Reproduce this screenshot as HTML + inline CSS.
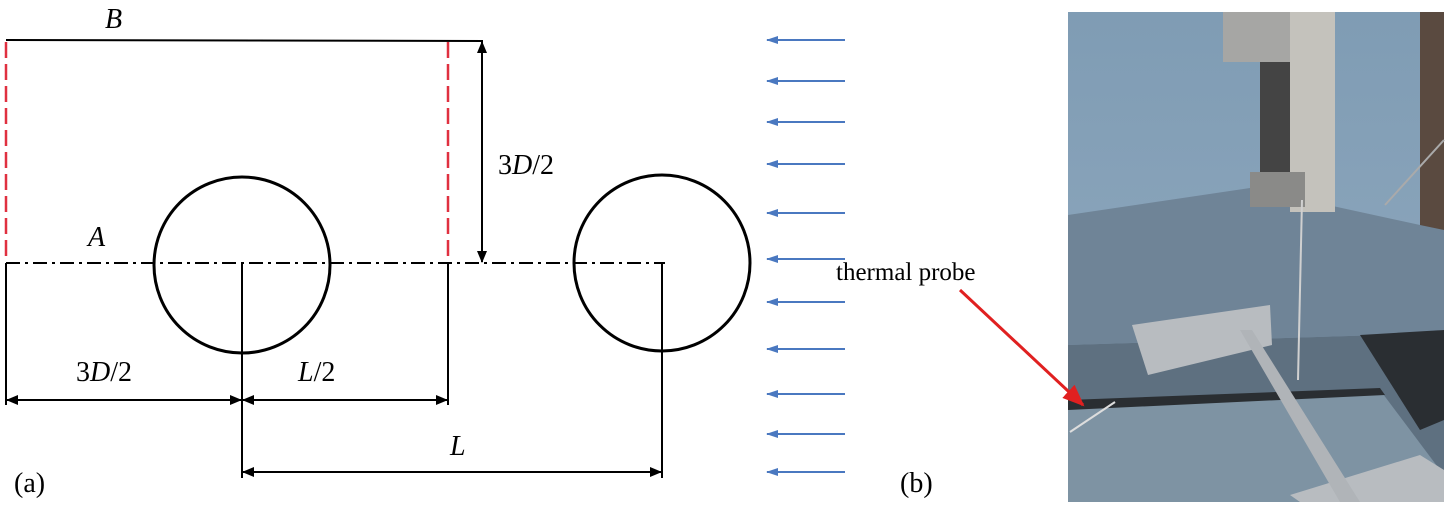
<!DOCTYPE html>
<html><head><style>
body{margin:0;background:#fff;width:1448px;height:508px;overflow:hidden}
svg text{font-family:"Liberation Serif",serif}
</style></head><body>
<svg width="1448" height="508" viewBox="0 0 1448 508" xmlns="http://www.w3.org/2000/svg">
<defs>
<marker id="ah" markerWidth="12" markerHeight="10" refX="11" refY="5" orient="auto-start-reverse" markerUnits="userSpaceOnUse"><path d="M0,0 L12,5 L0,10 Z" fill="#000"/></marker>
<marker id="bh" markerWidth="12" markerHeight="10" refX="11" refY="5" orient="auto" markerUnits="userSpaceOnUse"><path d="M0,1 L12,5 L0,9 Z" fill="#4a78c0"/></marker>
<marker id="rh" markerWidth="22" markerHeight="18" refX="20" refY="9" orient="auto" markerUnits="userSpaceOnUse"><path d="M0,0 L22,9 L0,18 Z" fill="#e02020"/></marker>
<linearGradient id="wall" x1="0" y1="0" x2="0" y2="1"><stop offset="0" stop-color="#7f9cb4"/><stop offset="1" stop-color="#93abc0"/></linearGradient>
</defs>
<line x1="6" y1="40" x2="483" y2="41" stroke="#000" stroke-width="2"/>
<line x1="6" y1="42" x2="6" y2="262" stroke="#e03040" stroke-width="2.5" stroke-dasharray="16,6"/>
<line x1="448" y1="42" x2="448" y2="262" stroke="#e03040" stroke-width="2.5" stroke-dasharray="16,6"/>
<line x1="482" y1="42" x2="482" y2="262" stroke="#000" stroke-width="2" marker-start="url(#ah)" marker-end="url(#ah)"/>
<line x1="6" y1="263" x2="665" y2="263" stroke="#000" stroke-width="2" stroke-dasharray="14,5,3,5"/>
<circle cx="242" cy="265" r="88" fill="none" stroke="#000" stroke-width="3"/>
<circle cx="662" cy="263" r="88" fill="none" stroke="#000" stroke-width="3"/>
<line x1="6" y1="263" x2="6" y2="405" stroke="#000" stroke-width="2"/>
<line x1="448" y1="263" x2="448" y2="405" stroke="#000" stroke-width="2"/>
<line x1="242" y1="263" x2="242" y2="478" stroke="#000" stroke-width="2"/>
<line x1="662" y1="263" x2="662" y2="478" stroke="#000" stroke-width="2"/>
<line x1="7" y1="400" x2="241" y2="400" stroke="#000" stroke-width="2" marker-start="url(#ah)" marker-end="url(#ah)"/>
<line x1="243" y1="400" x2="447" y2="400" stroke="#000" stroke-width="2" marker-start="url(#ah)" marker-end="url(#ah)"/>
<line x1="243" y1="472" x2="661" y2="472" stroke="#000" stroke-width="2" marker-start="url(#ah)" marker-end="url(#ah)"/>
<g font-size="28">
<text x="105" y="28" font-style="italic">B</text>
<text x="88" y="246" font-style="italic">A</text>
<text x="498" y="174">3<tspan font-style="italic">D</tspan>/2</text>
<text x="76" y="381">3<tspan font-style="italic">D</tspan>/2</text>
<text x="298" y="381"><tspan font-style="italic">L</tspan>/2</text>
<text x="450" y="455" font-style="italic">L</text>
<text x="14" y="492">(a)</text>
<text x="900" y="492">(b)</text>
<text x="836" y="280" font-size="25">thermal probe</text>
</g>
<g stroke="#4a78c0" stroke-width="2">
<line x1="845" y1="40" x2="767" y2="40" marker-end="url(#bh)"/>
<line x1="845" y1="81" x2="767" y2="81" marker-end="url(#bh)"/>
<line x1="845" y1="122" x2="767" y2="122" marker-end="url(#bh)"/>
<line x1="845" y1="164" x2="767" y2="164" marker-end="url(#bh)"/>
<line x1="845" y1="213" x2="767" y2="213" marker-end="url(#bh)"/>
<line x1="845" y1="259" x2="767" y2="259" marker-end="url(#bh)"/>
<line x1="845" y1="302" x2="767" y2="302" marker-end="url(#bh)"/>
<line x1="845" y1="349" x2="767" y2="349" marker-end="url(#bh)"/>
<line x1="845" y1="394" x2="767" y2="394" marker-end="url(#bh)"/>
<line x1="845" y1="434" x2="767" y2="434" marker-end="url(#bh)"/>
<line x1="845" y1="472" x2="767" y2="472" marker-end="url(#bh)"/>
</g>
<rect x="1068" y="12" width="376" height="490" fill="url(#wall)"/>
<rect x="1420" y="12" width="24" height="220" fill="#5a4a40"/>
<polygon points="1068,215 1250,188 1420,225 1444,230 1444,330 1380,335 1068,345" fill="#6f8497"/>
<polygon points="1068,345 1380,335 1444,340 1444,502 1068,502" fill="#5e7080"/>
<polygon points="1068,405 1380,390 1440,470 1440,502 1068,502" fill="#7e93a3"/>
<polygon points="1068,400 1380,388 1385,395 1068,410" fill="#2a2e32"/>
<polygon points="1360,335 1444,330 1444,420 1420,430" fill="#2a2e32"/>
<polygon points="1290,495 1420,455 1444,470 1444,502 1300,502" fill="#b8bcc0"/>
<rect x="1223" y="12" width="90" height="50" fill="#a6a6a4"/>
<rect x="1260" y="62" width="40" height="120" fill="#444"/>
<rect x="1290" y="12" width="45" height="200" fill="#c4c2bc"/>
<rect x="1250" y="172" width="55" height="35" fill="#8a8a88"/>
<polygon points="1132,325 1270,305 1272,345 1148,375" fill="#b8bcc0"/>
<polygon points="1240,330 1252,330 1360,502 1340,502" fill="#b0b4b8"/>
<line x1="1302" y1="200" x2="1298" y2="380" stroke="#d0d0d0" stroke-width="2"/>
<line x1="1070" y1="432" x2="1115" y2="402" stroke="#ddd" stroke-width="2"/>
<line x1="1385" y1="205" x2="1444" y2="140" stroke="#aaa" stroke-width="2"/>
<line x1="960" y1="290" x2="1083" y2="405" stroke="#e02020" stroke-width="3" marker-end="url(#rh)"/>
</svg>
</body></html>
